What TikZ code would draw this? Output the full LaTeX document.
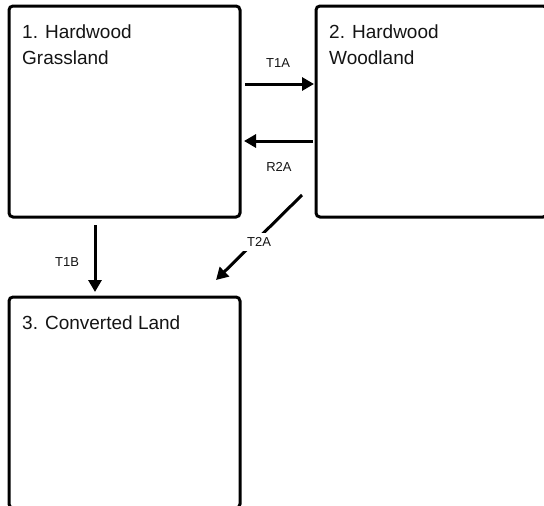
\documentclass[tikz,border=0pt]{standalone}
\usepackage{fontspec}
\setmainfont{Liberation Sans}
\usetikzlibrary{arrows.meta,calc}
\definecolor{boxline}{RGB}{0,0,0}
\definecolor{txtgray}{RGB}{20,20,20}

\tikzset{
  statebox/.style={draw=boxline, line width=3pt, rounded corners=4pt,
    minimum width=231pt, minimum height=211pt, inner sep=0pt, outer sep=0pt},
  statetext/.style={anchor=north west, inner sep=0pt, align=left,
    text=txtgray, font=\fontsize{19}{26}\selectfont},
  arr/.style={line width=3pt, -{Triangle[length=12pt,width=13pt]}},
  tlabel/.style={font=\fontsize{13}{15}\selectfont, text=txtgray}
}

\begin{document}
\begin{tikzpicture}[x=1pt,y=-1pt]

% Frame
\useasboundingbox (0,0) rectangle (544,506);

% Boxes
\node[statebox, anchor=north west] (b1) at (9,6) {};
\node[statebox, anchor=north west] (b2) at (316,6) {};
\node[statebox, anchor=north west] (b3) at (9,297) {};

% Box texts
\node[statetext] (s1) at ($(b1.north west)+(13,18.5)$) {1. Hardwood\\Grassland};
\node[statetext] (s2) at ($(b2.north west)+(13,18.5)$) {2. Hardwood\\Woodland};
\node[statetext] (s3) at ($(b3.north west)+(13,18.5)$) {3. Converted Land};

% Transitions
\draw[arr] ($(b1.north east)+(5,78)$) -- ($(b2.north west)+(-2,78)$);
\node[tlabel] (t1a) at (278,63) {T1A};

\draw[arr] ($(b2.north west)+(-3,135)$) -- ($(b1.north east)+(4,135)$);
\node[tlabel] (r2a) at (279,167) {R2A};

\draw[arr] ($(b1.south west)+(86,8)$) -- ($(b3.north west)+(86,-5)$);
\node[tlabel] (t1b) at (67,262) {T1B};

\draw[arr] ($(b2.south west)+(-14,-22)$) -- ($(b3.north east)+(-24,-17)$);
\node[tlabel, fill=white, inner sep=4pt] (t2a) at (259,242) {T2A};

\end{tikzpicture}
\end{document}
